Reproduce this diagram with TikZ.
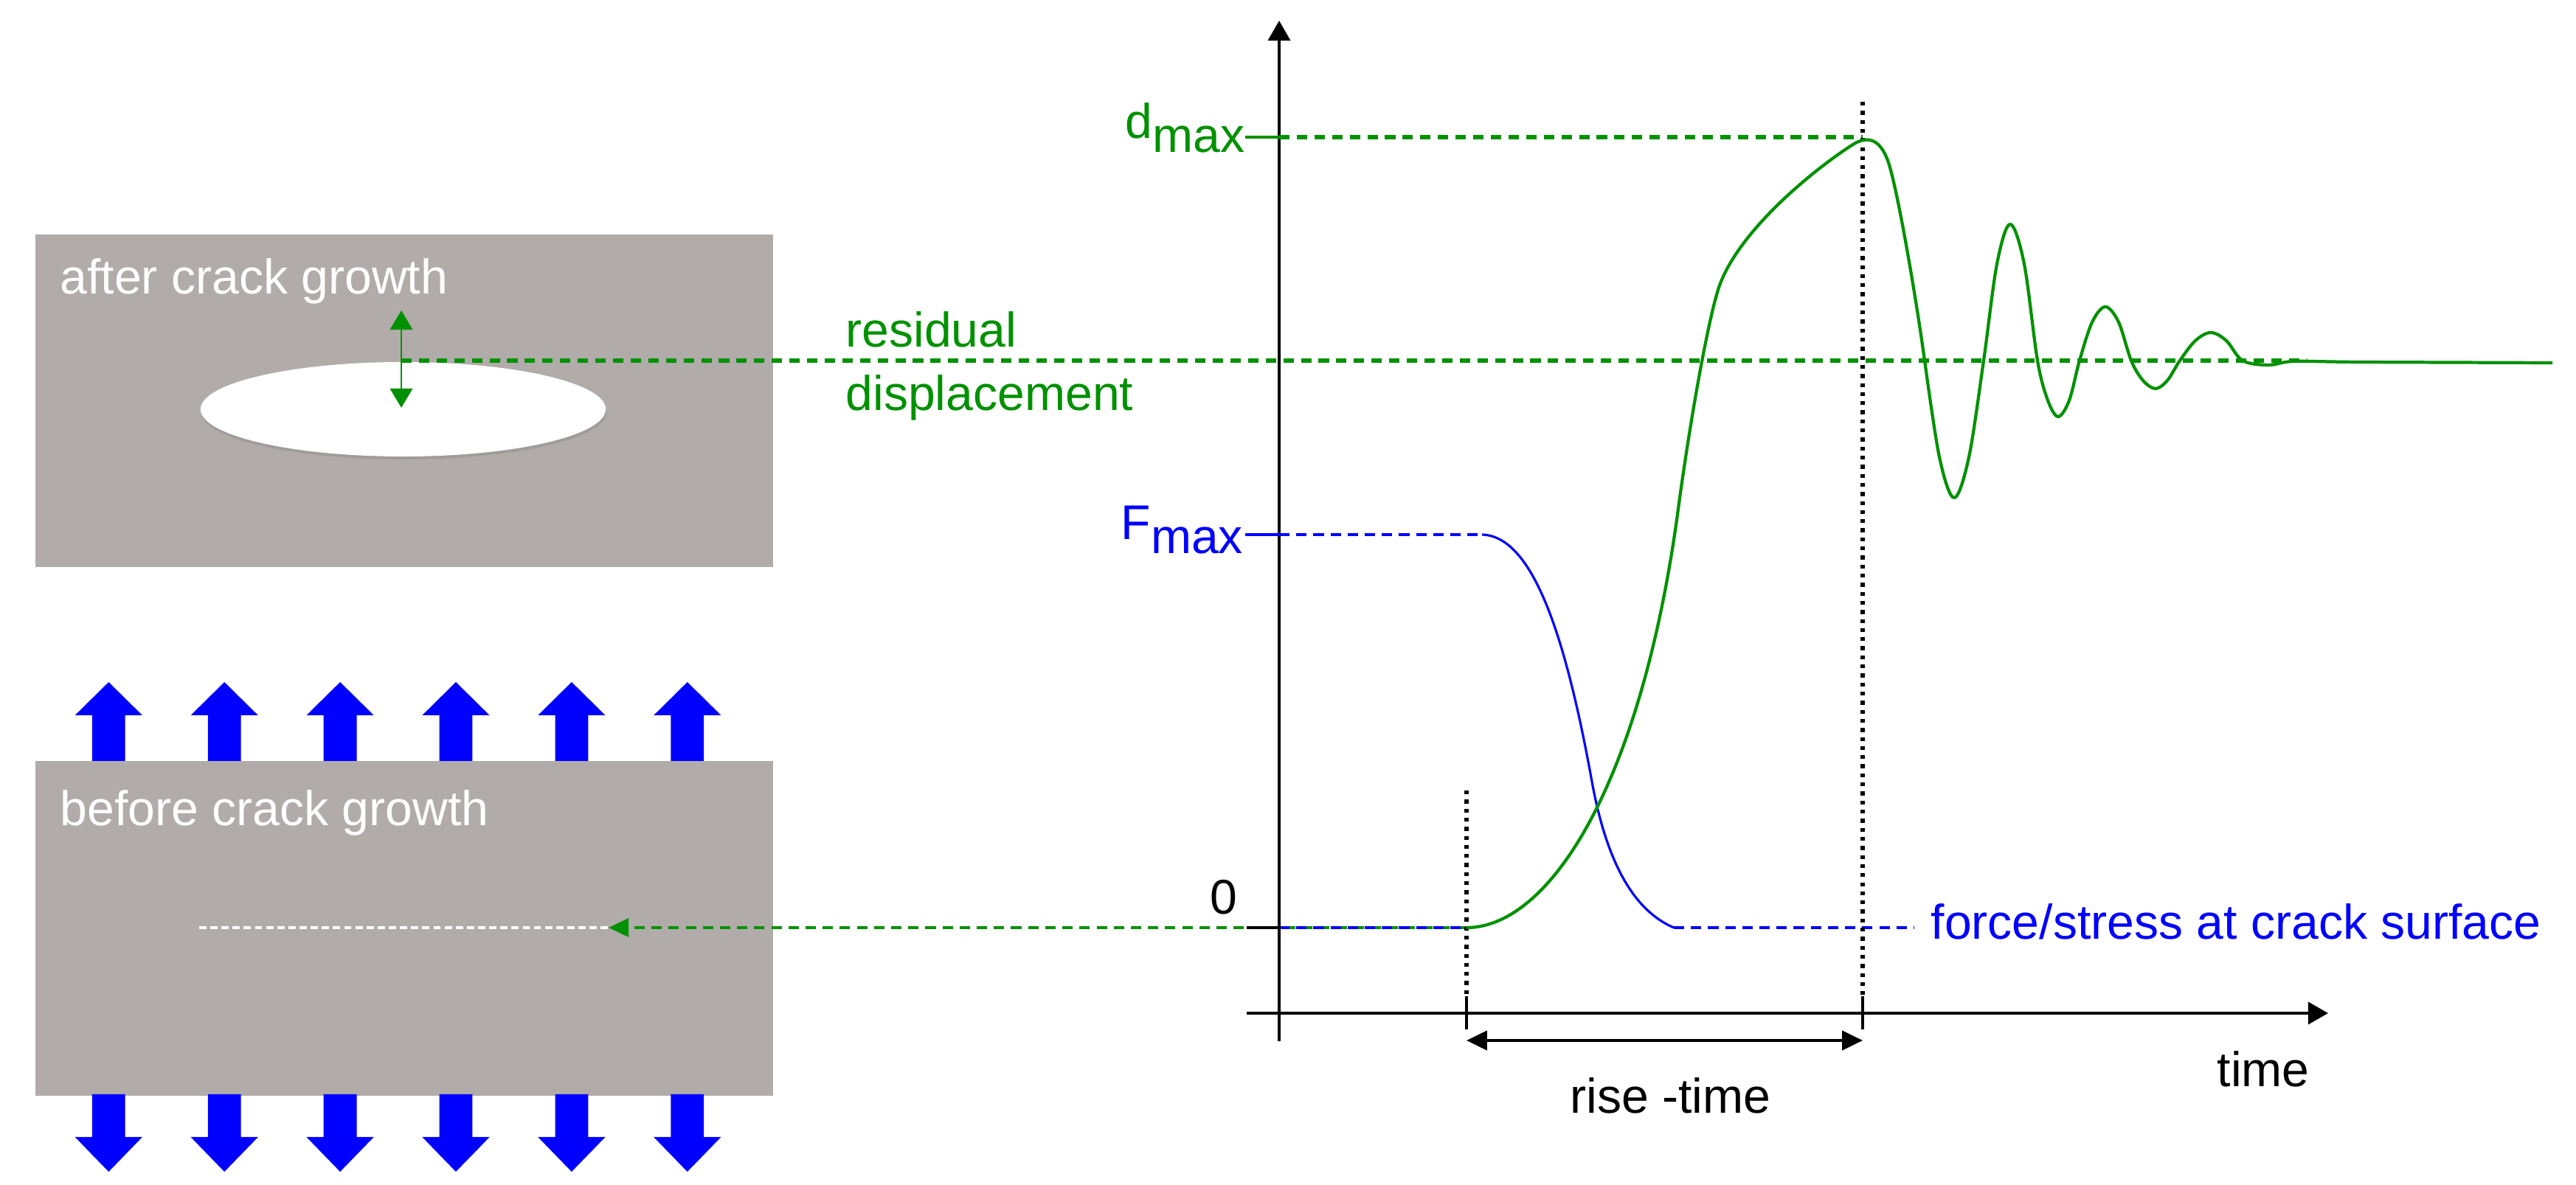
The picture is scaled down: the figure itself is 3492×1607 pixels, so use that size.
\documentclass[tikz,border=0pt]{standalone}
\usepackage{fontspec}
\setmainfont{Liberation Sans}
\usetikzlibrary{arrows.meta,shapes.geometric}
\definecolor{boxgray}{RGB}{177,172,170}
\definecolor{shadowgray}{RGB}{160,156,154}
\definecolor{pgreen}{RGB}{0,145,0}
\definecolor{pblue}{RGB}{0,0,255}
\begin{document}
\begin{tikzpicture}[x=0.01cm,y=-0.01cm,
  lbl/.style={anchor=base west,inner sep=0pt,font=\fontsize{18.8pt}{22pt}\selectfont},
  axisline/.style={line width=1.2pt,black},
  greencurve/.style={pgreen,line width=1.2pt,line join=round},
  bluecurve/.style={pblue,line width=0.9pt,line join=round},
  thickdash/.style={pgreen,line width=1.8pt,dash pattern=on 4pt off 2.8pt},
  thindash/.style={line width=0.9pt,dash pattern=on 4pt off 2.6pt},
  dotline/.style={black,line width=1.6pt,dash pattern=on 1.5pt off 2pt},
  axtip/.style={-{Triangle[length=7.7pt,width=8.5pt]}},
  ticktip/.style={{Triangle[length=7.9pt,width=7.4pt]}-{Triangle[length=7.9pt,width=7.4pt]}},
  disptip/.style={{Triangle[length=7.4pt,width=8.6pt]}-{Triangle[length=7.4pt,width=8.6pt]}},
  platebox/.style={fill=boxgray,draw=none,inner sep=0pt,anchor=north west,minimum width=10cm},
  loadarrow/.style={fill=pblue,draw=none}
]
\fill[white] (0,0) rectangle (3492,1607);
\useasboundingbox (0,0) rectangle (3492,1607);

% ---------- specimen plates ----------
\node[platebox,minimum height=4.51cm] (topbox) at (47,317) {};
\node[platebox,minimum height=4.54cm] (botbox) at (47,1031) {};

% crack (after growth)
\node[ellipse,fill=shadowgray,draw=none,inner sep=0pt,minimum width=5.49cm,minimum height=1.28cm] (crackshadow) at (547.5,559) {};
\node[ellipse,fill=white,draw=none,inner sep=0pt,minimum width=5.49cm,minimum height=1.28cm] (crack) at (546.5,555) {};

% load arrows
\foreach \i in {0,...,5}{
  \pgfmathsetmacro\cx{147.3+156.9*\i}
  \fill[loadarrow] (\cx-22.4,1032) -- (\cx-22.4,970) -- (\cx-45.6,970) -- (\cx,925)
     -- (\cx+45.6,970) -- (\cx+22.4,970) -- (\cx+22.4,1032) -- cycle;
  \fill[loadarrow] (\cx-22.4,1484) -- (\cx-22.4,1542) -- (\cx-45.6,1542) -- (\cx,1589)
     -- (\cx+45.6,1542) -- (\cx+22.4,1542) -- (\cx+22.4,1484) -- cycle;
}

\node[lbl,text=white] (afterlbl) at (81,399) {after crack growth};
\node[lbl,text=white] (beforelbl) at (81,1120) {before crack growth};

% ---------- key coordinates ----------
\coordinate (dispTop) at (544,421);
\coordinate (dispBot) at (544,553);
\coordinate (resL) at (544,489);
\coordinate (resR) at (3128,489);
\coordinate (yaxB) at (1734,1412);
\coordinate (yaxT) at (1734,28);
\coordinate (xaxL) at (1690,1374);
\coordinate (xaxR) at (3156,1374);
\coordinate (dTick) at (1688,186);
\coordinate (dAx) at (1734,186);
\coordinate (dPeak) at (2525,186);
\coordinate (fTick) at (1688,725);
\coordinate (fAx) at (1734,725);
\coordinate (fEnd) at (2009,725);
\coordinate (zTick) at (1690,1258);
\coordinate (zAx) at (1734,1258);
\coordinate (zStart) at (1988,1258);
\coordinate (zArrow) at (825,1258);
\coordinate (crackL) at (270,1258);
\coordinate (fLow) at (2269,1258);
\coordinate (fLowEnd) at (2595,1258);
\coordinate (t0top) at (1988,1072);
\coordinate (t0mid) at (1988,1351);
\coordinate (t0bot) at (1988,1396);
\coordinate (t1top) at (2525,138);
\coordinate (t1mid) at (2525,1351);
\coordinate (t1bot) at (2525,1396);
\coordinate (rL) at (1988,1411);
\coordinate (rR) at (2525,1411);

% displacement arrow at the crack
\draw[pgreen,line width=0.85pt,disptip] (dispTop) -- (dispBot);
% residual displacement line
\draw[thickdash] (resL) -- (resR);

% white crack line and arrow in lower plate
\draw[white,line width=0.9pt,dash pattern=on 2.8pt off 1.5pt] (crackL) -- (zArrow);
\draw[pgreen,thindash,-{Triangle[length=7.7pt,width=7.1pt]}] (zStart) -- (zArrow);
\draw[pblue,thindash] (zAx) -- (zStart);
\draw[black,line width=1.4pt] (zTick) -- (zAx);

% axes
\draw[axisline,axtip] (yaxB) -- (yaxT);
\draw[axisline,axtip] (xaxL) -- (xaxR);

% dmax and Fmax lines
\draw[pgreen,line width=1.2pt] (dTick) -- (dAx);
\draw[thickdash] (dAx) -- (dPeak);
\draw[pblue,line width=0.9pt] (fTick) -- (fAx);
\draw[pblue,thindash] (fAx) -- (fEnd);
\draw[pblue,thindash] (fLow) -- (fLowEnd);

% dotted time markers
\draw[dotline] (t0top) -- (t0mid);
\draw[axisline] (t0mid) -- (t0bot);
\draw[dotline] (t1top) -- (t1mid);
\draw[axisline] (t1mid) -- (t1bot);

% rise-time arrow
\draw[axisline,ticktip] (rL) -- (rR);

% force curve
\draw[bluecurve] (fEnd) .. controls (2075,727) and (2120,850) .. (2158,1060)
  .. controls (2178,1170) and (2215,1235) .. (fLow);

% displacement curve
\draw[greencurve] (zStart) .. controls (2100,1258) and (2225,1065) .. (2275,690)
  .. controls (2290,578) and (2314,441) .. (2329,393)
  .. controls (2354,313) and (2465,225) .. (2515,194)
  .. controls (2527,188) and (2545,183) .. (2558,215)
  .. controls (2570,243) and (2597,401) .. (2609,489);
\draw[greencurve] plot[smooth,tension=0.55] coordinates {
 (2609,489)
 (2629,620) (2649,675) (2669,620) (2689,489)
 (2707,358) (2725,304) (2744,358) (2762,489)
 (2776,543) (2790,565) (2805,543) (2819,489)
 (2836,437) (2854,416) (2872,437) (2889,489)
 (2905,516) (2922,527) (2938,516) (2955,489)
 (2976,462) (2997,451) (3018,462) (3040,489)
 (3075,495) (3110,490) (3200,491) (3460,492)};

% ---------- labels ----------
\node[lbl,text=pgreen] (reslbl1) at (1146,471) {residual};
\node[lbl,text=pgreen] (reslbl2) at (1146,557) {displacement};
\node[lbl,text=pgreen] (dmaxlbl) at (1525,188) {d\raisebox{-0.19cm}{max}};
\node[lbl,text=pblue] (fmaxlbl) at (1519,732) {F\raisebox{-0.18cm}{max}};
\node[lbl,text=black] (zerolbl) at (1640,1240) {0};
\node[lbl,text=pblue] (forcelbl) at (2617,1274) {force/stress at crack surface};
\node[lbl,text=black] (riselbl) at (2128,1510) {rise -time};
\node[lbl,text=black] (timelbl) at (3005,1474) {time};
\end{tikzpicture}
\end{document}
